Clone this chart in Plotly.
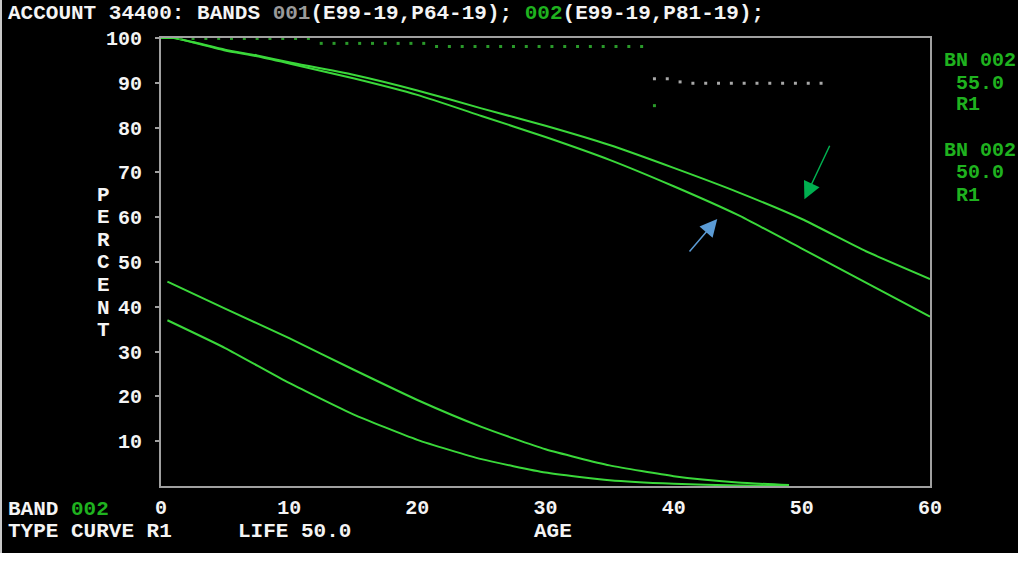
import plotly.graph_objects as go

# ---------------- data ----------------
ages_main = [0, 1, 2.5, 5, 7.5, 10, 15, 20, 25, 30, 35, 40, 45, 50, 55, 60]
surv_life55 = [100, 100, 99.1, 97.4, 96.1, 94.6, 91.8, 88.3, 84.3, 80.4, 76.1, 71.0, 65.6, 59.6, 52.4, 46.2]
surv_life50 = [100, 100, 99.0, 97.2, 95.9, 94.3, 91.0, 87.3, 82.6, 77.9, 72.8, 66.9, 60.5, 53.0, 45.4, 37.8]

ages_tail = [0.5, 5, 10, 15, 20, 25, 30, 35, 40, 45, 49]
tail_life55 = [45.6, 39.6, 33.0, 26.0, 19.2, 13.2, 8.2, 4.6, 2.2, 0.8, 0.2]
tail_life50 = [37.0, 30.8, 23.0, 16.0, 10.3, 6.0, 3.0, 1.3, 0.5, 0.1, 0.0]

band002_ages = [1.5, 2.5, 3.5, 4.5, 5.5, 6.5, 7.5, 8.5, 9.5, 10.5, 11.5,
                12.5, 13.5, 14.5, 15.5, 16.5, 17.5, 18.5, 19.5, 20.5,
                21.5, 22.5, 23.5, 24.5, 25.5, 26.5, 27.5, 28.5, 29.5, 30.5,
                31.5, 32.5, 33.5, 34.5, 35.5, 36.5, 37.5, 38.5]
band002_pct = [99.9] * 11 + [98.8] * 9 + [98.1] * 17 + [84.9]

band001_ages = [38.5, 39.5, 40.5, 41.5, 42.5, 43.5, 44.5, 45.5, 46.5, 47.5, 48.5, 49.5, 50.5, 51.5]
band001_pct = [90.9, 90.9, 90.2, 89.9, 89.9, 89.9, 89.9, 89.9, 89.9, 89.9, 89.9, 89.9, 89.9, 89.9]

x_ticks = [0, 10, 20, 30, 40, 50, 60]
y_ticks = [10, 20, 30, 40, 50, 60, 70, 80, 90, 100]

# ---------------- layout helpers ----------------
W, H = 1023, 565
L, R, T, B = 161, 930, 38, 486
FONT = "Liberation Mono"
FS = 21
FS_TICK = 20
LINE_GREEN = "#3ad83a"
TXT_GREEN = "#1fb21f"
DOT_GREEN = "#2a9a2a"
GRAY = "#a8a8a8"
WHITE = "#f4f4f4"


def px(x):
    return (x - L) / (R - L)


def py(y):
    return (B - y) / (B - T)


fig = go.Figure()

for xs, ys in [(ages_main, surv_life55), (ages_main, surv_life50),
               (ages_tail, tail_life55), (ages_tail, tail_life50)]:
    fig.add_trace(go.Scatter(x=xs, y=ys, mode="lines",
                             line=dict(color=LINE_GREEN, width=2, shape="spline", smoothing=0.5),
                             showlegend=False, hoverinfo="skip"))

fig.add_trace(go.Scatter(x=band001_ages, y=band001_pct, mode="markers",
                         marker=dict(symbol="square", size=3, color=GRAY),
                         cliponaxis=False, showlegend=False))
fig.add_trace(go.Scatter(x=band002_ages, y=band002_pct, mode="markers",
                         marker=dict(symbol="square", size=3, color=DOT_GREEN),
                         cliponaxis=False, showlegend=False))

ann = []


def text(x, y, s, color=WHITE, anchor="left", size=FS):
    ann.append(dict(x=px(x), y=py(y), xref="paper", yref="paper", text=s,
                    showarrow=False, xanchor=anchor, yanchor="middle",
                    font=dict(family=FONT, size=size, color=color, weight="bold")))


text(6, 14, "ACCOUNT 34400: BANDS <span style='color:#9a9a9a'>001</span>(E99-19,P64-19); "
            f"<span style='color:{TXT_GREEN}'>002</span>(E99-19,P81-19);")
for i, ch in enumerate("PERCENT"):
    text(103, 195 + i * 22.6, ch, anchor="center")
text(942, 60, "BN 002", TXT_GREEN, size=20)
text(942, 83, " 55.0", TXT_GREEN, size=20)
text(942, 105, " R1", TXT_GREEN, size=20)
text(942, 150, "BN 002", TXT_GREEN, size=20)
text(942, 172, " 50.0", TXT_GREEN, size=20)
text(942, 195, " R1", TXT_GREEN, size=20)
text(6, 509, f"BAND <span style='color:{TXT_GREEN}'>002</span>")
text(6, 531, "TYPE CURVE R1")
text(236, 531, "LIFE 50.0")
text(532, 531, "AGE")

# arrows (head in data coords, tail offset in pixels)
ann.append(dict(x=50.2, y=64.0, xref="x", yref="y", ax=26, ay=-55, text="",
                showarrow=True, arrowhead=2, arrowsize=2.3, arrowwidth=1.5,
                arrowcolor="#00b050", standoff=0))
ann.append(dict(x=43.4, y=59.6, xref="x", yref="y", ax=-29, ay=34, text="",
                showarrow=True, arrowhead=2, arrowsize=2.3, arrowwidth=1.5,
                arrowcolor="#5b9bd5", standoff=0))

axis_common = dict(showline=True, linecolor="#a0a0a0", linewidth=2, mirror=True,
                   showgrid=False, zeroline=False,
                   tickfont=dict(family=FONT, size=FS_TICK, color=WHITE, weight="bold"))

fig.update_layout(
    width=W, height=H,
    margin=dict(l=L, r=W - R, t=T, b=H - B, pad=0),
    paper_bgcolor="#ffffff",
    plot_bgcolor="#000000",
    annotations=ann,
    shapes=[dict(type="rect", xref="paper", yref="paper", layer="below",
                 x0=px(2), x1=px(1018), y0=py(553), y1=py(0),
                 fillcolor="#000000", line=dict(width=0)),
            dict(type="line", xref="paper", yref="paper", layer="below",
                 x0=px(1), x1=px(1), y0=py(553), y1=py(0),
                 line=dict(color="#c8c8c8", width=2))],
    xaxis=dict(range=[0, 60], tickvals=x_ticks, ticks="", ticklabelstandoff=2, **axis_common),
    yaxis=dict(range=[0, 100], tickvals=y_ticks, ticks="outside", ticklen=4,
               tickcolor="#a0a0a0", tickwidth=2, ticklabelstandoff=9, **axis_common),
)

fig.write_html("out.html", config={"displayModeBar": False},
               post_script="document.body.style.margin='0';document.body.style.padding='0';")
